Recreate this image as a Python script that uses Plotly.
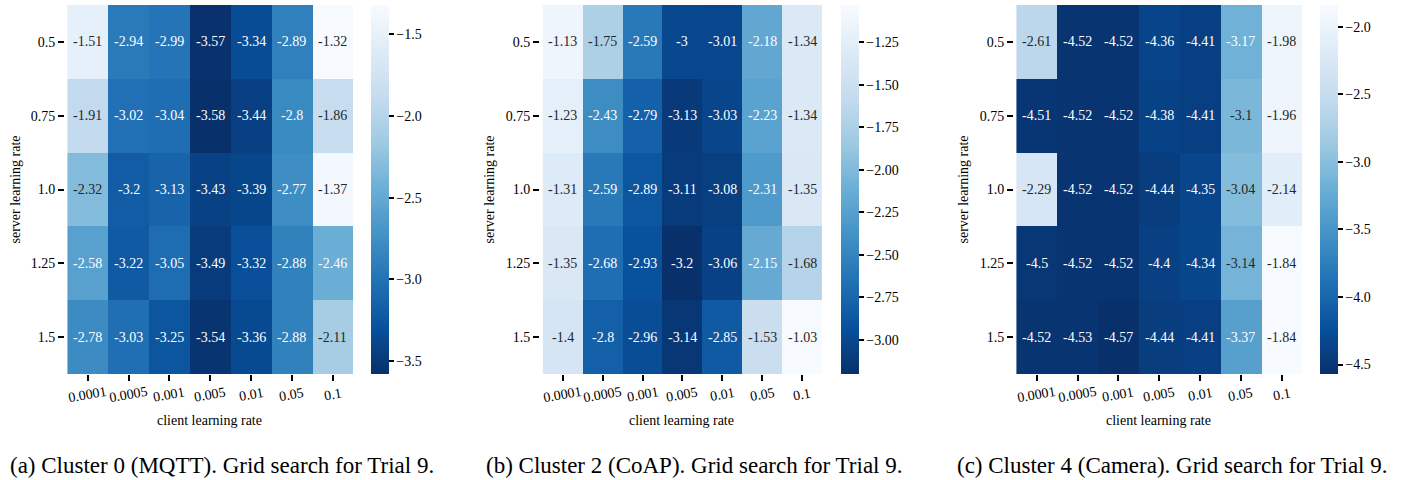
import plotly.graph_objects as go

client_lr = ["0.0001", "0.0005", "0.001", "0.005", "0.01", "0.05", "0.1"]
server_lr = ["0.5", "0.75", "1.0", "1.25", "1.5"]

cluster0_mqtt = [
    [-1.51, -2.94, -2.99, -3.57, -3.34, -2.89, -1.32],
    [-1.91, -3.02, -3.04, -3.58, -3.44, -2.8, -1.86],
    [-2.32, -3.2, -3.13, -3.43, -3.39, -2.77, -1.37],
    [-2.58, -3.22, -3.05, -3.49, -3.32, -2.88, -2.46],
    [-2.78, -3.03, -3.25, -3.54, -3.36, -2.88, -2.11],
]
cluster2_coap = [
    [-1.13, -1.75, -2.59, -3, -3.01, -2.18, -1.34],
    [-1.23, -2.43, -2.79, -3.13, -3.03, -2.23, -1.34],
    [-1.31, -2.59, -2.89, -3.11, -3.08, -2.31, -1.35],
    [-1.35, -2.68, -2.93, -3.2, -3.06, -2.15, -1.68],
    [-1.4, -2.8, -2.96, -3.14, -2.85, -1.53, -1.03],
]
cluster4_camera = [
    [-2.61, -4.52, -4.52, -4.36, -4.41, -3.17, -1.98],
    [-4.51, -4.52, -4.52, -4.38, -4.41, -3.1, -1.96],
    [-2.29, -4.52, -4.52, -4.44, -4.35, -3.04, -2.14],
    [-4.5, -4.52, -4.52, -4.4, -4.34, -3.14, -1.84],
    [-4.52, -4.53, -4.57, -4.44, -4.41, -3.37, -1.84],
]
captions = [
    "(a) Cluster 0 (MQTT). Grid search for Trial 9.",
    "(b) Cluster 2 (CoAP). Grid search for Trial 9.",
    "(c) Cluster 4 (Camera). Grid search for Trial 9.",
]
cbar_dtick = [0.5, 0.25, 0.5]
cbar_fmt = [".1f", ".2f", ".1f"]

W, H = 1407, 480
FONT = "Liberation Serif"

blues = [(247, 251, 255), (222, 235, 247), (198, 219, 239), (158, 202, 225),
         (107, 174, 214), (66, 146, 198), (33, 113, 181), (8, 81, 156), (8, 48, 107)]
blues_r = blues[::-1]
n = len(blues_r)
colorscale = [[i / (n - 1), "rgb(%d,%d,%d)" % c] for i, c in enumerate(blues_r)]


def cmap(t):
    t = min(max(t, 0.0), 1.0)
    pos = t * (n - 1)
    i = min(int(pos), n - 2)
    f = pos - i
    a, b = blues_r[i], blues_r[i + 1]
    return [(a[k] + (b[k] - a[k]) * f) / 255.0 for k in range(3)]


def lum(rgb):
    lin = [c / 12.92 if c <= 0.03928 else ((c + 0.055) / 1.055) ** 2.4 for c in rgb]
    return 0.2126 * lin[0] + 0.7152 * lin[1] + 0.0722 * lin[2]


def px_x(p):
    return p / W


def px_y(p):
    return 1 - p / H


heat_left = [65, 540, 1014]
heat_right = [353, 822, 1302]
cbar_left = [371, 841, 1320]
cbar_thick = 18
ytitle_x = [15, 489, 963]
caption_x = [222, 694, 1172]
top, bottom = 5, 374

fig = go.Figure()
datasets = [cluster0_mqtt, cluster2_coap, cluster4_camera]
annotations = []
for k, z in enumerate(datasets):
    flat = [v for row in z for v in row]
    zmin, zmax = min(flat), max(flat)
    xa = "x" if k == 0 else "x%d" % (k + 1)
    ya = "y" if k == 0 else "y%d" % (k + 1)
    fig.add_trace(go.Heatmap(
        z=z, x=client_lr, y=server_lr, xaxis=xa, yaxis=ya,
        zmin=zmin, zmax=zmax, colorscale=colorscale,
        colorbar=dict(
            x=px_x(cbar_left[k]), xanchor="left", xpad=0, ypad=0,
            y=(px_y(top) + px_y(bottom)) / 2, yanchor="middle",
            len=(bottom - top) / H, lenmode="fraction",
            thickness=cbar_thick, thicknessmode="pixels",
            outlinewidth=0, ticks="outside", ticklen=5, tickwidth=1.5,
            tickcolor="black", dtick=cbar_dtick[k], tick0=0,
            tickformat=cbar_fmt[k],
            tickfont=dict(family=FONT, size=14, color="black"),
        ),
    ))
    ax = dict(
        domain=[px_x(heat_left[k]), px_x(heat_right[k])],
        anchor=ya, type="category", automargin=False, showticklabels=False,
        ticks="outside", ticklen=6, tickwidth=1.5, tickcolor="black",
        showgrid=False, zeroline=False, showline=False,
    )
    ay = dict(
        domain=[px_y(bottom), px_y(top)],
        anchor=xa, type="category", autorange="reversed", automargin=False,
        ticks="outside", ticklen=6, tickwidth=1.5, tickcolor="black",
        tickfont=dict(family=FONT, size=14, color="black"),
        showgrid=False, zeroline=False, showline=False,
    )
    fig.update_layout({("xaxis" if k == 0 else "xaxis%d" % (k + 1)): ax,
                       ("yaxis" if k == 0 else "yaxis%d" % (k + 1)): ay})
    for i, row in enumerate(z):
        for j, v in enumerate(row):
            t = (v - zmin) / (zmax - zmin)
            col = "#262626" if lum(cmap(t)) > 0.408 else "white"
            annotations.append(dict(
                x=j, y=i, xref=xa, yref=ya,
                text="%g" % v, showarrow=False,
                font=dict(family=FONT, size=14, color=col),
            ))
    for j, lab in enumerate(client_lr):
        annotations.append(dict(
            x=j, y=px_y(394), xref=xa, yref="paper",
            text=lab, showarrow=False, textangle=-10,
            xanchor="center", yanchor="middle",
            font=dict(family=FONT, size=14, color="black"),
        ))
    annotations.append(dict(
        x=px_x((heat_left[k] + heat_right[k]) / 2), y=px_y(420),
        xref="paper", yref="paper", text="client learning rate",
        showarrow=False, xanchor="center", yanchor="middle",
        font=dict(family=FONT, size=14, color="black"),
    ))
    annotations.append(dict(
        x=px_x(ytitle_x[k]), y=px_y((top + bottom) / 2),
        xref="paper", yref="paper", text="server learning rate",
        showarrow=False, xanchor="center", yanchor="middle", textangle=-90,
        font=dict(family=FONT, size=14, color="black"),
    ))
    annotations.append(dict(
        x=px_x(caption_x[k]), y=px_y(465),
        xref="paper", yref="paper", text=captions[k],
        showarrow=False, xanchor="center", yanchor="middle",
        font=dict(family=FONT, size=23, color="black"),
    ))

fig.update_layout(
    template="none",
    width=W, height=H, margin=dict(l=0, r=0, t=0, b=0),
    paper_bgcolor="white", plot_bgcolor="white",
    annotations=annotations, showlegend=False,
    font=dict(family=FONT, color="black"),
)
fig.write_html("out.html")
